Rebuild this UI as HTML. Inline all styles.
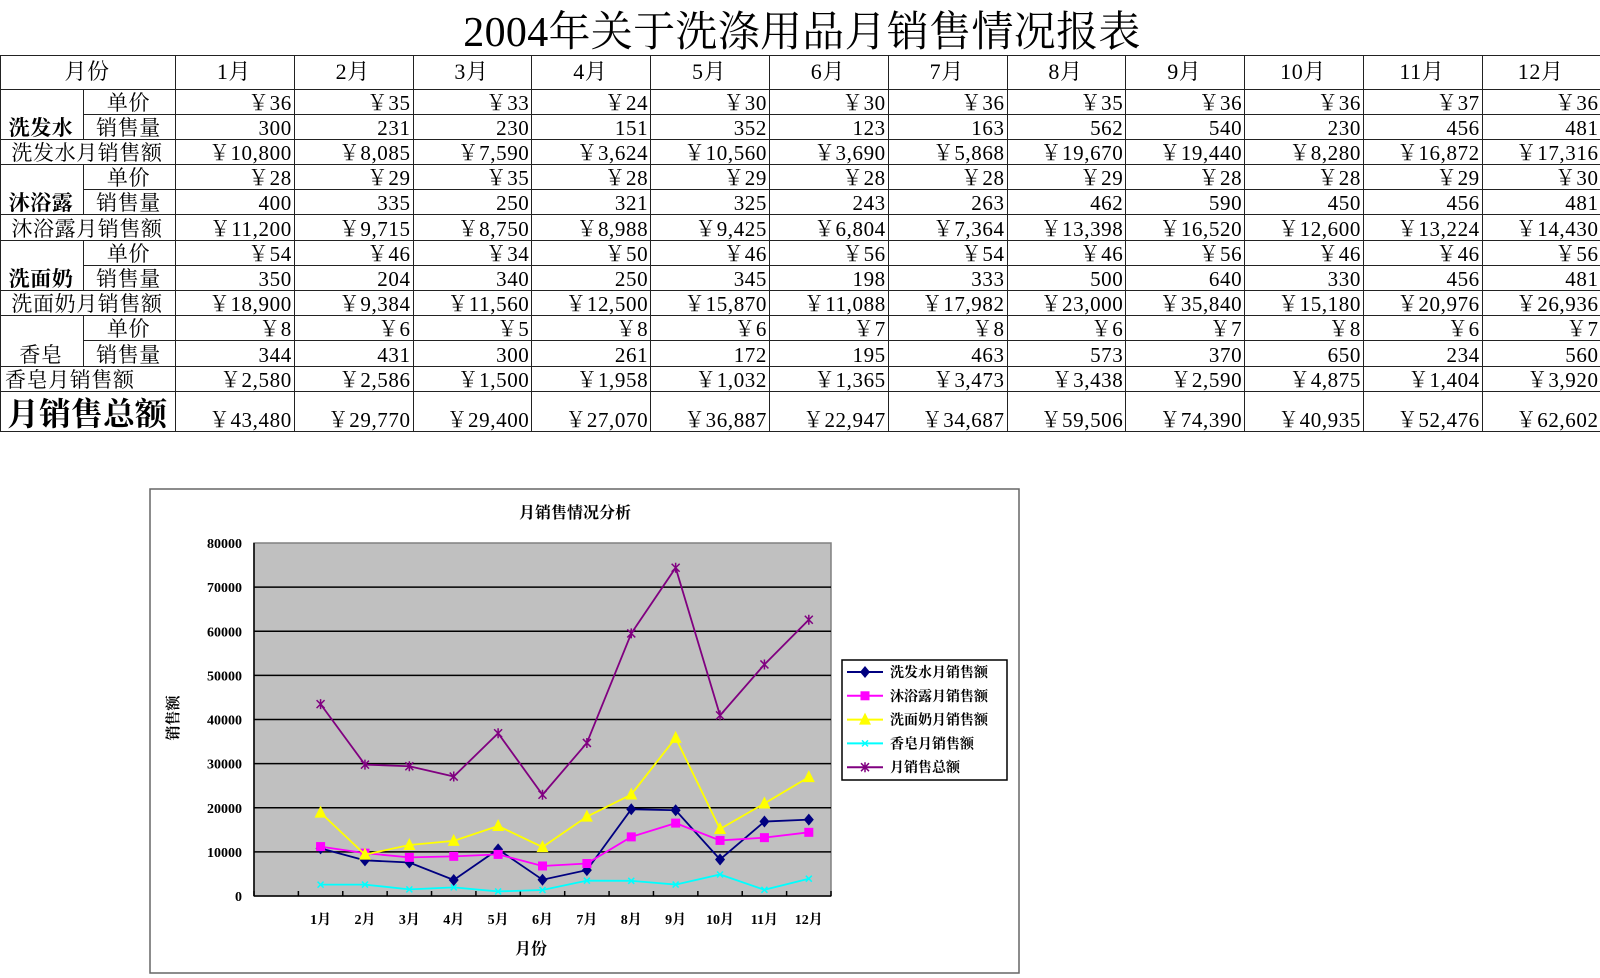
<!DOCTYPE html>
<html><head><meta charset="utf-8">
<style>
body{margin:0;width:1600px;height:978px;background:#fff;position:relative;overflow:hidden;font-family:"Liberation Serif","Noto Serif CJK SC",serif;}
.title{position:absolute;left:0;top:8px;width:1600px;text-align:center;font-size:42px;line-height:50px;color:#000;padding-left:2px;letter-spacing:0.3px}
table{position:absolute;left:0;top:55px;border-collapse:collapse;table-layout:fixed;width:1601px}
td{border:1.5px solid #222;padding:0 2px 0 0;font-size:21px;line-height:22px;height:24.2px;white-space:nowrap;overflow:hidden;text-align:right;vertical-align:bottom;letter-spacing:0.6px}
tr.h td{height:32.5px;text-align:center;font-size:22px;vertical-align:middle}
td.c{text-align:center}
td.l{text-align:left;padding-left:4px}
td.b{font-weight:bold;text-align:center}
tr.t td{height:39px}
</style></head><body>
<div class="title">2004年关于洗涤用品月销售情况报表</div>
<table>
<colgroup><col style="width:83px"><col style="width:92px"><col span="12" style="width:118.8px"></colgroup>
<tr class="h"><td colspan="2">月份</td><td>1月</td><td>2月</td><td>3月</td><td>4月</td><td>5月</td><td>6月</td><td>7月</td><td>8月</td><td>9月</td><td>10月</td><td>11月</td><td>12月</td></tr>
<tr><td rowspan="2" class="b">洗发水</td><td class="c">单价</td><td>￥36</td><td>￥35</td><td>￥33</td><td>￥24</td><td>￥30</td><td>￥30</td><td>￥36</td><td>￥35</td><td>￥36</td><td>￥36</td><td>￥37</td><td>￥36</td></tr>
<tr><td class="c">销售量</td><td>300</td><td>231</td><td>230</td><td>151</td><td>352</td><td>123</td><td>163</td><td>562</td><td>540</td><td>230</td><td>456</td><td>481</td></tr>
<tr><td colspan="2" class="c">洗发水月销售额</td><td>￥10,800</td><td>￥8,085</td><td>￥7,590</td><td>￥3,624</td><td>￥10,560</td><td>￥3,690</td><td>￥5,868</td><td>￥19,670</td><td>￥19,440</td><td>￥8,280</td><td>￥16,872</td><td>￥17,316</td></tr>
<tr><td rowspan="2" class="b">沐浴露</td><td class="c">单价</td><td>￥28</td><td>￥29</td><td>￥35</td><td>￥28</td><td>￥29</td><td>￥28</td><td>￥28</td><td>￥29</td><td>￥28</td><td>￥28</td><td>￥29</td><td>￥30</td></tr>
<tr><td class="c">销售量</td><td>400</td><td>335</td><td>250</td><td>321</td><td>325</td><td>243</td><td>263</td><td>462</td><td>590</td><td>450</td><td>456</td><td>481</td></tr>
<tr><td colspan="2" class="c">沐浴露月销售额</td><td>￥11,200</td><td>￥9,715</td><td>￥8,750</td><td>￥8,988</td><td>￥9,425</td><td>￥6,804</td><td>￥7,364</td><td>￥13,398</td><td>￥16,520</td><td>￥12,600</td><td>￥13,224</td><td>￥14,430</td></tr>
<tr><td rowspan="2" class="b">洗面奶</td><td class="c">单价</td><td>￥54</td><td>￥46</td><td>￥34</td><td>￥50</td><td>￥46</td><td>￥56</td><td>￥54</td><td>￥46</td><td>￥56</td><td>￥46</td><td>￥46</td><td>￥56</td></tr>
<tr><td class="c">销售量</td><td>350</td><td>204</td><td>340</td><td>250</td><td>345</td><td>198</td><td>333</td><td>500</td><td>640</td><td>330</td><td>456</td><td>481</td></tr>
<tr><td colspan="2" class="c">洗面奶月销售额</td><td>￥18,900</td><td>￥9,384</td><td>￥11,560</td><td>￥12,500</td><td>￥15,870</td><td>￥11,088</td><td>￥17,982</td><td>￥23,000</td><td>￥35,840</td><td>￥15,180</td><td>￥20,976</td><td>￥26,936</td></tr>
<tr><td rowspan="2" class="b" style="font-weight:normal">香皂</td><td class="c">单价</td><td>￥8</td><td>￥6</td><td>￥5</td><td>￥8</td><td>￥6</td><td>￥7</td><td>￥8</td><td>￥6</td><td>￥7</td><td>￥8</td><td>￥6</td><td>￥7</td></tr>
<tr><td class="c">销售量</td><td>344</td><td>431</td><td>300</td><td>261</td><td>172</td><td>195</td><td>463</td><td>573</td><td>370</td><td>650</td><td>234</td><td>560</td></tr>
<tr><td colspan="2" class="l">香皂月销售额</td><td>￥2,580</td><td>￥2,586</td><td>￥1,500</td><td>￥1,958</td><td>￥1,032</td><td>￥1,365</td><td>￥3,473</td><td>￥3,438</td><td>￥2,590</td><td>￥4,875</td><td>￥1,404</td><td>￥3,920</td></tr>
<tr class="t"><td colspan="2" class="c" style="font-size:32px;line-height:37px;font-weight:bold;font-family:'Noto Serif CJK SC',serif;letter-spacing:0">月销售总额</td><td>￥43,480</td><td>￥29,770</td><td>￥29,400</td><td>￥27,070</td><td>￥36,887</td><td>￥22,947</td><td>￥34,687</td><td>￥59,506</td><td>￥74,390</td><td>￥40,935</td><td>￥52,476</td><td>￥62,602</td></tr>
</table>

<svg id="ch" width="1600" height="978" style="position:absolute;left:0;top:0" xmlns="http://www.w3.org/2000/svg" font-family="Liberation Serif, Noto Serif CJK SC, serif">
<rect x="150" y="489" width="869" height="484" fill="#fff" stroke="#666" stroke-width="1.5"/>
<text x="575" y="518" font-size="16" text-anchor="middle" font-weight="bold">月销售情况分析</text>
<rect x="254" y="543" width="577" height="353" fill="#c0c0c0" stroke="#808080" stroke-width="1.5"/>
<g id="grid" stroke="#000" stroke-width="1.5"></g>
<g id="ylab" font-size="14" font-weight="bold" text-anchor="end"></g>
<g id="xlab" font-size="14" font-weight="bold" text-anchor="middle"></g>
<text x="178" y="718" font-size="15" font-weight="bold" text-anchor="middle" transform="rotate(-90 178 718)">销售额</text>
<text x="531" y="954" font-size="16" font-weight="bold" text-anchor="middle">月份</text>
<g id="series"></g>
<rect x="842" y="660" width="165" height="120" fill="#fff" stroke="#000" stroke-width="1.5"/>
<g id="leg" font-size="14" font-weight="bold"></g>
</svg>
<script>
var NS="http://www.w3.org/2000/svg";
function el(p,t,a,txt){var e=document.createElementNS(NS,t);for(var k in a)e.setAttribute(k,a[k]);if(txt!==undefined)e.textContent=txt;document.getElementById(p).appendChild(e);return e;}
var L=254,R=831,T=543,B=896,W=(R-L)/13;
for(var i=0;i<=8;i++){var y=B-i*(B-T)/8;
 if(i>0&&i<8)el("grid","line",{x1:L,x2:R,y1:y,y2:y});
 el("ylab","text",{x:242,y:y+5},String(i*10000));}
el("grid","line",{x1:L,x2:L,y1:T,y2:B});el("grid","line",{x1:L,x2:R,y1:B,y2:B});
for(var k=0;k<=13;k++){var x=L+k*W;el("grid","line",{x1:x,x2:x,y1:B-5,y2:B});}
for(var m=0;m<12;m++)el("xlab","text",{x:L+W*(m+1.5),y:924},(m+1)+"月");
var S=[
{n:"洗发水月销售额",c:"#000080",m:"d",v:[10800,8085,7590,3624,10560,3690,5868,19670,19440,8280,16872,17316]},
{n:"沐浴露月销售额",c:"#ff00ff",m:"s",v:[11200,9715,8750,8988,9425,6804,7364,13398,16520,12600,13224,14430]},
{n:"洗面奶月销售额",c:"#ffff00",m:"t",v:[18900,9384,11560,12500,15870,11088,17982,23000,35840,15180,20976,26936]},
{n:"香皂月销售额",c:"#00ffff",m:"x",v:[2580,2586,1500,1958,1032,1365,3473,3438,2590,4875,1404,3920]},
{n:"月销售总额",c:"#800080",m:"a",v:[43480,29770,29400,27070,36887,22947,34687,59506,74390,40935,52476,62602]}];
function mark(p,m,x,y,c){
 if(m=="d")el(p,"polygon",{points:(x)+","+(y-6)+" "+(x+5)+","+y+" "+x+","+(y+6)+" "+(x-5)+","+y,fill:c});
 else if(m=="s")el(p,"rect",{x:x-4.5,y:y-4.5,width:9,height:9,fill:c});
 else if(m=="t")el(p,"polygon",{points:x+","+(y-7)+" "+(x+6)+","+(y+5)+" "+(x-6)+","+(y+5),fill:c});
 else if(m=="x"){el(p,"path",{d:"M"+(x-3)+" "+(y-3)+"L"+(x+3)+" "+(y+3)+"M"+(x+3)+" "+(y-3)+"L"+(x-3)+" "+(y+3),stroke:c,"stroke-width":1.5});}
 else {el(p,"path",{d:"M"+(x-4)+" "+(y-4)+"L"+(x+4)+" "+(y+4)+"M"+(x+4)+" "+(y-4)+"L"+(x-4)+" "+(y+4)+"M"+x+" "+(y-5)+"L"+x+" "+(y+5),stroke:c,"stroke-width":1.5});}
}
S.forEach(function(s,j){
 var pts=s.v.map(function(v,i){return [L+W*(i+1.5),B-v*(B-T)/80000];});
 el("series","polyline",{points:pts.map(function(p){return p.join(",");}).join(" "),fill:"none",stroke:s.c,"stroke-width":1.8});
 pts.forEach(function(p){mark("series",s.m,p[0],p[1],s.c);});
 var ly=672+j*23.8;
 el("leg","line",{x1:847,x2:883,y1:ly,y2:ly,stroke:s.c,"stroke-width":2});
 mark("leg",s.m,865,ly,s.c);
 el("leg","text",{x:890,y:ly+5},s.n);
});
</script>
</body></html>
